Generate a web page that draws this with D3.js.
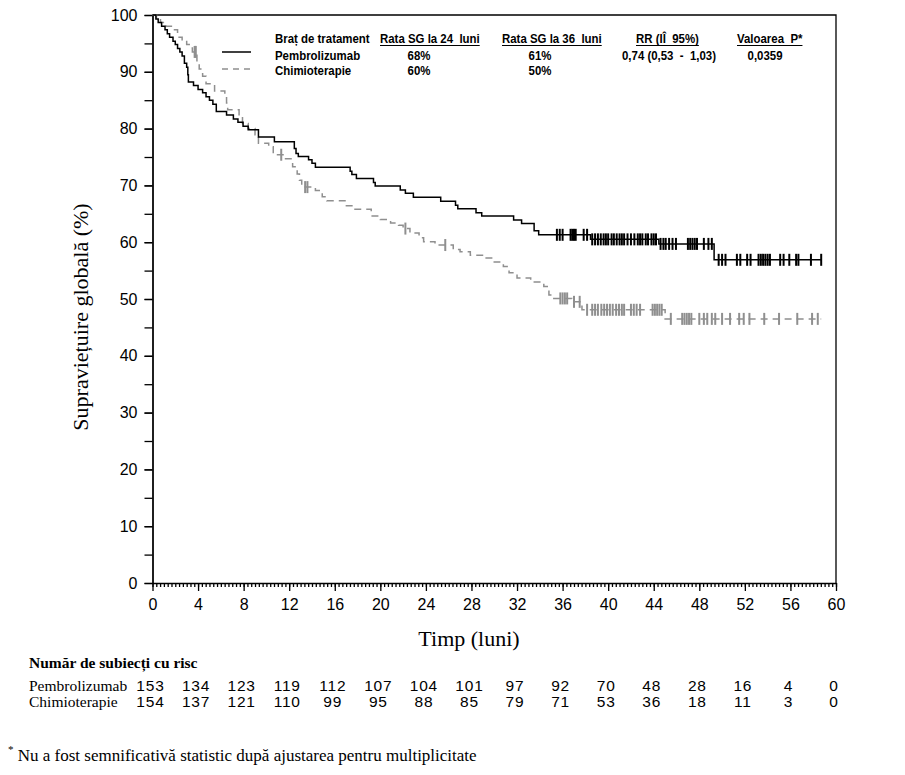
<!DOCTYPE html>
<html>
<head>
<meta charset="utf-8">
<script src="https://cdn.jsdelivr.net/npm/d3@7"></script>
<style>
  body { margin: 0; background: #fff; }
  svg text { white-space: pre; }
</style>
</head>
<body>
<svg id="chart" width="905" height="775"></svg>
<script>
// Kaplan-Meier steps (months, % survival after the step)
var pembroTime = [0, 0.3, 0.5, 0.8, 1.1, 1.3, 1.5, 1.8, 2.0, 2.2, 2.4, 2.6, 2.8, 3.0, 3.1, 3.15, 3.6, 4.0, 4.4, 4.7,
  5.0, 5.3, 5.6, 6.5, 7.1, 7.5, 7.95, 8.4, 9.3, 10.7, 12.45, 12.6, 12.8, 13.7, 14.0, 14.3, 17.35, 17.5, 17.9, 19.4,
  19.55, 21.75, 22.2, 22.9, 25.3, 26.6, 26.8, 28.4, 28.9, 31.7, 32.4, 33.5, 33.9, 38.45, 44.45, 49.3];
var pembroSurv = [100, 99.3, 98.7, 98.0, 97.4, 96.7, 96.1, 95.4, 94.8, 94.1, 93.5, 92.8, 91.5, 90.8, 89.5, 88.2, 87.6, 86.9, 86.3, 85.6,
  85.0, 84.3, 83.0, 82.4, 81.7, 81.1, 80.4, 79.8, 78.5, 77.7, 76.5, 75.6, 75.1, 74.5, 73.9, 73.2, 72.5, 71.9, 71.2, 70.5,
  69.9, 69.2, 68.6, 67.9, 67.2, 66.5, 65.9, 65.2, 64.6, 63.9, 63.3, 62.0, 61.3, 60.5, 59.7, 56.9];
var pembroEnd = 58.7;
var pembroCensor = [35.5, 35.75, 36.0, 36.7, 36.85, 37.0, 37.15, 37.85, 38.15, 38.6, 38.85, 39.1, 39.35, 39.6, 39.8, 40.0, 40.3,
  40.5, 40.75, 41.0, 41.2, 41.4, 41.7, 42.0, 42.3, 42.6, 42.8, 43.0, 43.3, 43.5, 43.8, 44.0, 44.2, 44.6, 44.85, 45.05, 45.35,
  45.65, 45.95, 47.0, 47.2, 47.4, 47.6, 47.8, 48.4, 48.8, 49.1, 49.7, 50.0, 50.3, 51.3, 51.6, 52.2, 52.5, 53.2, 53.4, 53.6,
  53.8, 54.0, 54.2, 55.1, 55.4, 55.9, 56.5, 56.7, 57.8, 58.7];

var chemoTime = [0, 0.35, 0.7, 1.2, 1.8, 2.2, 2.6, 3.0, 3.3, 3.5, 3.9, 4.1, 4.4, 4.7, 5.45, 6.35, 6.5, 6.6, 7.6, 7.9,
  8.4, 9.0, 9.3, 10.2, 10.6, 11.6, 12.3, 12.7, 12.9, 13.1, 14.3, 14.9, 15.3, 16.9, 17.6, 19.2, 20.0, 20.9, 21.6, 22.0,
  22.6, 23.4, 23.8, 24.8, 26.4, 27.0, 27.9, 29.1, 30.0, 30.8, 31.3, 32.0, 33.2, 34.35, 34.8, 35.1, 36.8, 37.7, 45.0];
var chemoSurv = [100, 99.4, 98.7, 98.0, 97.4, 96.1, 95.5, 94.8, 94.2, 93.5, 91.8, 90.5, 89.2, 87.9, 86.6, 85.6, 84.5, 83.3, 82.1, 80.9,
  80.0, 78.9, 77.4, 76.8, 75.4, 74.7, 73.3, 72.0, 70.9, 69.7, 69.1, 68.0, 67.3, 66.4, 65.8, 64.6, 64.0, 63.4, 63.0, 62.4,
  61.6, 60.8, 60.1, 59.5, 58.7, 58.3, 57.7, 57.2, 56.5, 55.7, 54.6, 53.7, 53.0, 52.2, 50.7, 50.1, 49.5, 48.1, 46.5];
var chemoEnd = 58.7;
var chemoCensor = [3.7, 3.8, 11.3, 13.4, 13.6, 22.2, 25.7, 35.8, 36.0, 36.2, 36.4, 37.0, 37.5, 38.15, 38.6, 38.85, 39.1,
  39.4, 39.65, 39.9, 40.15, 40.4, 40.7, 40.95, 41.2, 41.4, 42.0, 42.25, 42.5, 42.8, 43.9, 44.1, 44.3, 44.5, 44.7, 45.5,
  46.5, 46.7, 46.9, 47.1, 47.3, 48.0, 48.4, 48.7, 49.1, 49.4, 50.0, 50.7, 51.5, 51.9, 52.4, 53.7, 55.0, 56.6, 57.9, 58.4];

// number at risk
var riskTimes = [0, 4, 8, 12, 16, 20, 24, 28, 32, 36, 40, 44, 48, 52, 56, 60];
var pembroRisk = [153, 134, 123, 119, 112, 107, 104, 101, 97, 92, 70, 48, 28, 16, 4, 0];
var chemoRisk = [154, 137, 121, 110, 99, 95, 88, 85, 79, 71, 53, 36, 18, 11, 3, 0];

// legend table
var legendHeaders = ["Braț de tratament", "Rata SG la 24  luni", "Rata SG la 36  luni", "RR (IÎ  95%)", "Valoarea  P*"];
var pembroRow = ["Pembrolizumab", "68%", "61%", "0,74 (0,53  -  1,03)", "0,0359"];
var chemoRow = ["Chimioterapie", "60%", "50%", "", ""];

var serif = "'Liberation Serif', 'Times New Roman', serif";
var sans = "'Liberation Sans', Arial, sans-serif";
var grey = "#8f8f8f";

var svg = d3.select("#chart");
var plotLeft = 152.5, plotTop = 15, plotW = 683.5, plotH = 568;

var x = d3.scaleLinear().domain([0, 60]).range([plotLeft, plotLeft + plotW]);
var y = d3.scaleLinear().domain([0, 100]).range([plotTop + plotH, plotTop]);

var g = svg.append("g");

// box (top and right sides)
g.append("path")
    .attr("d", "M" + x(0) + "," + y(100) + "H" + x(60) + "V" + y(0))
    .attr("fill", "none")
    .attr("stroke", "#000")
    .attr("stroke-width", 1.3);

// x axis
var xAxis = g.append("g")
    .attr("transform", "translate(0," + y(0) + ")");
xAxis.append("g")
    .call(d3.axisBottom(x).tickValues(d3.range(0, 60.01, 1 / 3)).tickSize(4).tickFormat(""))
    .call(function(s) { s.select(".domain").remove(); });
xAxis.append("g")
    .call(d3.axisBottom(x).tickValues(d3.range(0, 61, 4)).tickSize(8).tickSizeOuter(0).tickPadding(8))
    .call(function(s) {
      s.selectAll("text").style("font", "16px " + sans).attr("fill", "#000");
    });
xAxis.selectAll("line, path").attr("stroke", "#000").attr("stroke-width", 1.3);

// y axis
var yAxis = g.append("g")
    .attr("transform", "translate(" + x(0) + ",0)");
yAxis.append("g")
    .call(d3.axisLeft(y).tickValues(d3.range(0, 101, 5)).tickSize(8).tickFormat("").tickSizeOuter(0));
yAxis.append("g")
    .call(d3.axisLeft(y).tickValues(d3.range(0, 101, 10)).tickSize(8).tickSizeOuter(0).tickPadding(7))
    .call(function(s) {
      s.selectAll("text").style("font", "16px " + sans).attr("fill", "#000");
    });
yAxis.selectAll("line, path").attr("stroke", "#000").attr("stroke-width", 1.3);

// axis titles
svg.append("text")
    .attr("transform", "translate(88," + (plotTop + plotH / 2 + 18) + ") rotate(-90)")
    .attr("text-anchor", "middle")
    .style("font", "22px " + serif)
    .text("Supraviețuire globală (%)");

svg.append("text")
    .attr("x", 469)
    .attr("y", 646)
    .attr("text-anchor", "middle")
    .style("font", "22px " + serif)
    .text("Timp (luni)");

// curves
var line = d3.line()
    .curve(d3.curveStepAfter)
    .x(function(d) { return x(d[0]); })
    .y(function(d) { return y(d[1]); });

var makePoints = function(times, surv, end) {
  var pts = times.map(function(t, i) { return [t, surv[i]]; });
  pts.push([end, surv[surv.length - 1]]);
  return pts;
};

var survAt = function(times, surv, t) {
  var i = d3.bisectRight(times, t) - 1;
  return surv[Math.max(i, 0)];
};

var series = [
  {times: chemoTime, surv: chemoSurv, end: chemoEnd, censor: chemoCensor, color: grey, dash: "7,5"},
  {times: pembroTime, surv: pembroSurv, end: pembroEnd, censor: pembroCensor, color: "#000", dash: null}
];

series.forEach(function(s) {
  g.append("path")
      .attr("d", line(makePoints(s.times, s.surv, s.end)))
      .attr("fill", "none")
      .attr("stroke", s.color)
      .attr("stroke-width", 1.5)
      .attr("stroke-dasharray", s.dash);

  g.selectAll(null)
    .data(s.censor)
    .enter().append("line")
      .attr("x1", function(d) { return x(d); })
      .attr("x2", function(d) { return x(d); })
      .attr("y1", function(d) { return y(survAt(s.times, s.surv, d)) - 6; })
      .attr("y2", function(d) { return y(survAt(s.times, s.surv, d)) + 6; })
      .attr("stroke", s.color)
      .attr("stroke-width", 2);
});

// legend table (narrow bold: Liberation Sans squeezed horizontally)
var squeeze = 0.88;
var colX = [275, 380, 502, 636, 737];
var rowY = [43, 60, 75];
var legend = svg.append("g").style("font", "bold 13px " + sans);

var narrowText = function(xPos, yPos, str, anchor) {
  return legend.append("text")
      .attr("transform", "translate(" + xPos + "," + yPos + ") scale(" + squeeze + ",1)")
      .attr("text-anchor", anchor || "start")
      .text(str);
};

legendHeaders.forEach(function(h, i) {
  var t = narrowText(colX[i], rowY[0], h);
  if (i > 0) {
    var w = t.node().getComputedTextLength() * squeeze;
    legend.append("line")
        .attr("x1", colX[i]).attr("x2", colX[i] + w)
        .attr("y1", rowY[0] + 2.5).attr("y2", rowY[0] + 2.5)
        .attr("stroke", "#000").attr("stroke-width", 1);
  }
});

var valX = [275, 419, 540, 622, 765];
var valAnchor = ["start", "middle", "middle", "start", "middle"];
[pembroRow, chemoRow].forEach(function(row, r) {
  row.forEach(function(v, i) {
    narrowText(valX[i], rowY[r + 1], v, valAnchor[i]);
  });
});

legend.append("line")
    .attr("x1", 222).attr("x2", 251)
    .attr("y1", rowY[1] - 8).attr("y2", rowY[1] - 8)
    .attr("stroke", "#000").attr("stroke-width", 1.5);
legend.append("line")
    .attr("x1", 222).attr("x2", 251)
    .attr("y1", rowY[2] - 6).attr("y2", rowY[2] - 6)
    .attr("stroke", grey).attr("stroke-width", 1.5)
    .attr("stroke-dasharray", "6,5");

// number at risk table
svg.append("text")
    .attr("x", 29).attr("y", 668)
    .style("font", "bold 15.5px " + serif)
    .text("Număr de subiecți cu risc");

var riskRows = [
  {label: "Pembrolizumab", values: pembroRisk, y: 691},
  {label: "Chimioterapie", values: chemoRisk, y: 707}
];

riskRows.forEach(function(r) {
  svg.append("text")
      .attr("x", 29).attr("y", r.y)
      .style("font", "15.5px " + serif)
      .text(r.label);
  svg.selectAll(null)
    .data(r.values)
    .enter().append("text")
      .attr("x", function(d, i) { return x(riskTimes[i]) - 2; })
      .attr("y", r.y)
      .attr("text-anchor", "middle")
      .style("font", "15.5px " + sans)
      .style("letter-spacing", "0.8px")
      .text(function(d) { return d; });
});

// footnote
var foot = svg.append("text")
    .attr("x", 8).attr("y", 761)
    .style("font", "17px " + serif);
foot.append("tspan").attr("dy", -8).style("font-size", "11px").text("*");
foot.append("tspan").attr("dy", 8).text(" Nu a fost semnificativă statistic după ajustarea pentru multiplicitate");
</script>
</body>
</html>
